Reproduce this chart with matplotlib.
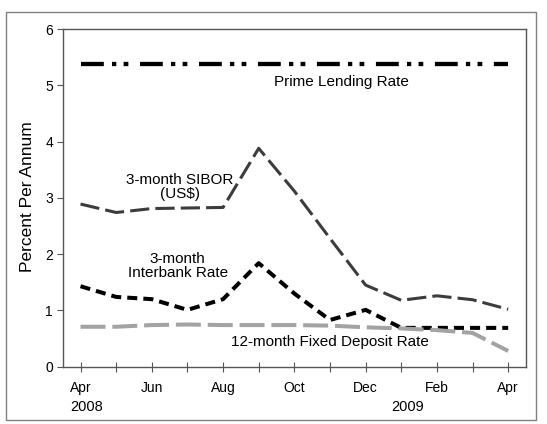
import numpy as np
import matplotlib.pyplot as plt
from matplotlib.patches import Rectangle
from matplotlib.transforms import blended_transform_factory

plt.rcParams['font.family'] = ['Liberation Sans', 'DejaVu Sans']

# meses de abr/2008 a abr/2009
months = ["Apr", "May", "Jun", "Jul", "Aug", "Sep", "Oct",
          "Nov", "Dec", "Jan", "Feb", "Mar", "Apr"]
tick_labels = ["Apr", "", "Jun", "", "Aug", "", "Oct",
               "", "Dec", "", "Feb", "", "Apr"]

prime = [5.38] * 13
sibor = [2.89, 2.74, 2.81, 2.82, 2.83, 3.88, 3.12, 2.28, 1.45, 1.18, 1.26, 1.19, 1.02]
interbank = [1.43, 1.24, 1.20, 1.01, 1.20, 1.84, 1.30, 0.83, 1.01, 0.69, 0.69, 0.69, 0.69]
fixed_dep = [0.71, 0.71, 0.74, 0.75, 0.74, 0.74, 0.74, 0.73, 0.70, 0.68, 0.65, 0.60, 0.28]

x = np.arange(len(months))

fig = plt.figure(figsize=(5.47, 4.24), dpi=100)
ax = fig.add_axes([0.1146, 0.1351, 0.8470, 0.7965])

# moldura externa
fig.patches.append(Rectangle((6 / 547, 4 / 424), 530 / 547, 408 / 424,
                             transform=fig.transFigure, fill=False,
                             edgecolor="#808080", linewidth=1.0))

ax.plot(x, prime, color="black", linewidth=3.1,
        dashes=(5.3, 1.9, 1.0, 1.7, 1.1, 2.7), dash_capstyle="butt")
ax.plot(x, sibor, color="#3c3c3c", linewidth=2.2, dashes=(6.3, 2.0))
ax.plot(x, interbank, color="black", linewidth=2.9, dashes=(2.5, 1.5))
ax.plot(x, fixed_dep, color="#a3a3a3", linewidth=2.9, dashes=(6.2, 1.7))

ax.set_xlim(-0.5, 12.5)
ax.set_ylim(0, 6)
ax.set_yticks(range(7))
ax.set_xticks(x)
ax.set_xticklabels(tick_labels)

for s in ax.spines.values():
    s.set_color("#555555")
    s.set_linewidth(1.0)

ax.tick_params(axis="y", direction="out", length=4, color="#555555",
               labelsize=10, pad=3)
ax.tick_params(axis="x", direction="inout", length=7, color="#555555",
               labelsize=10, pad=7)

ax.set_ylabel("Percent Per Annum", fontsize=12.5)
ax.yaxis.set_label_coords(-0.06, 0.504)

ax.text(7.33, 5.06, "Prime Lending Rate", ha="center", va="center", fontsize=11)
ax.text(2.78, 3.2, "3-month SIBOR\n(US$)", ha="center", va="center",
        fontsize=11, linespacing=1.0)
ax.text(2.73, 1.79, "3-month\nInterbank Rate", ha="center", va="center",
        fontsize=11, linespacing=1.05)
ax.text(7.0, 0.44, "12-month Fixed Deposit Rate", ha="center", va="center",
        fontsize=11)

trans = blended_transform_factory(ax.transData, ax.transAxes)
ax.text(0.18, -0.118, "2008", transform=trans, ha="center", va="center", fontsize=10.5)
ax.text(9.17, -0.118, "2009", transform=trans, ha="center", va="center", fontsize=10.5)

plt.savefig("out.png", dpi=100)
